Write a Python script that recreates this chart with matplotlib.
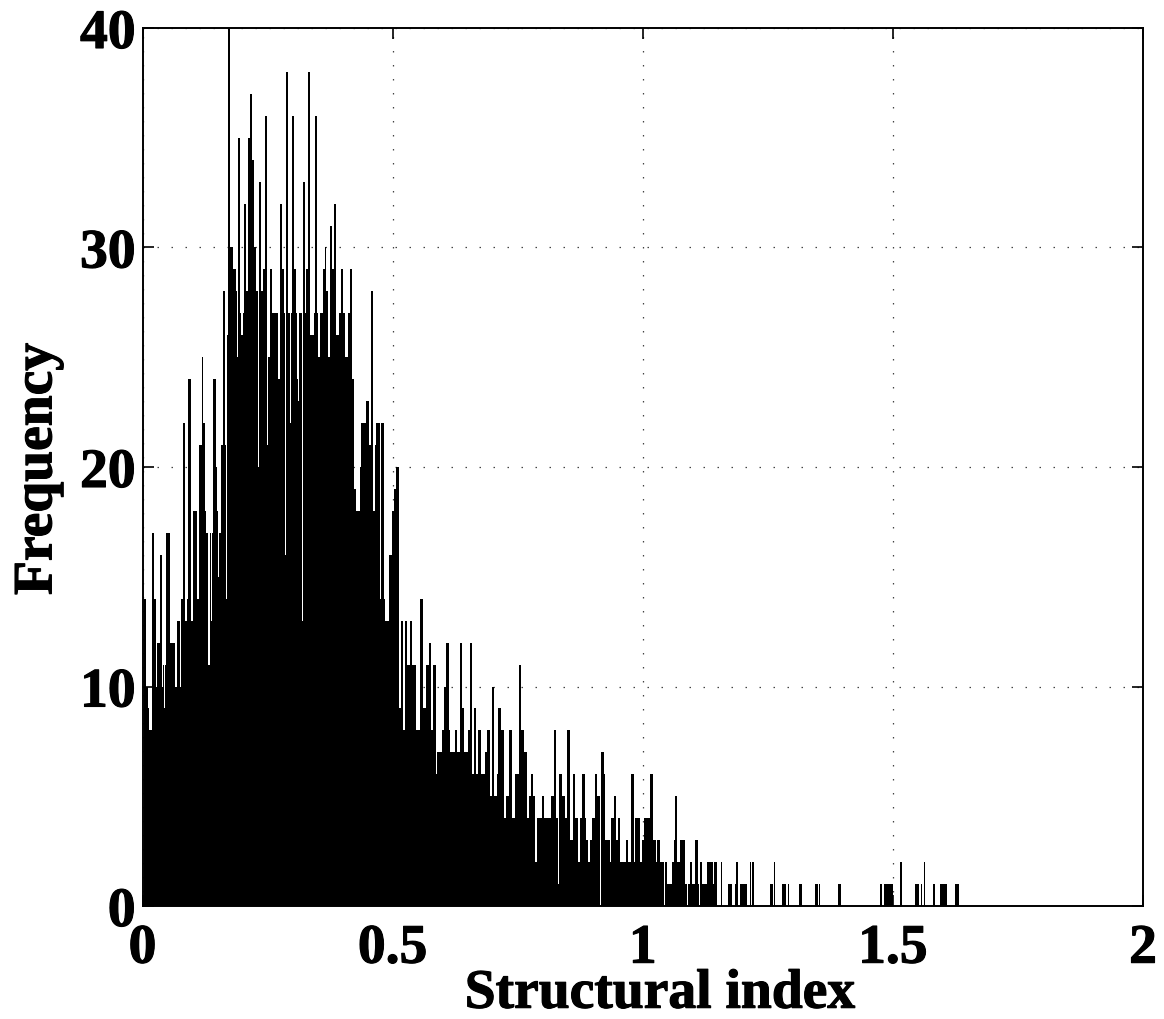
import numpy as np
import matplotlib
matplotlib.use("Agg")
import matplotlib.pyplot as plt
import matplotlib.patheffects as pe

plt.rcParams["font.family"] = ["Liberation Serif", "DejaVu Serif"]
plt.rcParams["font.weight"] = "bold"

# left edge of each run of the histogram and its count (a run ends where the next starts)
rise_index = [
    0.002, 0.007, 0.010, 0.012, 0.018, 0.023, 0.027, 0.029, 0.034, 0.039,
    0.041, 0.043, 0.044, 0.047, 0.055, 0.065, 0.066, 0.067, 0.069, 0.075,
    0.076, 0.081, 0.085, 0.088, 0.091, 0.097, 0.101, 0.108, 0.112, 0.113,
    0.118, 0.121, 0.124, 0.127, 0.130, 0.135, 0.137, 0.139, 0.141, 0.146,
    0.149, 0.151, 0.152, 0.156, 0.157, 0.160, 0.164, 0.167, 0.168,
]
rise_freq = [
    14, 10, 9, 8, 17, 14, 10, 12, 16, 10,
    11, 9, 11, 17, 12, 10, 7, 10, 13, 10,
    14, 22, 13, 14, 24, 13, 18, 14, 11, 21,
    25, 22, 18, 17, 11, 17, 13, 17, 24, 20,
    18, 15, 17, 16, 21, 28, 21, 14, 26,
]

peak_index = [
    0.170, 0.175, 0.181, 0.186, 0.189, 0.190, 0.194, 0.197, 0.201, 0.203,
    0.207, 0.211, 0.214, 0.218, 0.219, 0.223, 0.227, 0.231, 0.233, 0.237,
    0.240, 0.241, 0.245, 0.249, 0.251, 0.255, 0.259, 0.264, 0.265, 0.271,
    0.272, 0.273, 0.274, 0.278, 0.282, 0.285, 0.287, 0.291, 0.295, 0.296,
    0.299, 0.303, 0.307, 0.309, 0.311, 0.312, 0.313, 0.319, 0.321, 0.325,
    0.326, 0.330, 0.331, 0.335, 0.340, 0.341, 0.342, 0.345, 0.349, 0.351,
    0.355, 0.361, 0.364, 0.367, 0.370, 0.371, 0.375, 0.378, 0.379, 0.383,
    0.387, 0.390, 0.391, 0.393, 0.397, 0.401, 0.405, 0.410, 0.414, 0.415,
    0.419, 0.423, 0.427, 0.434, 0.437, 0.447, 0.453, 0.456, 0.460, 0.464,
    0.467, 0.475, 0.477, 0.483, 0.485,
]
peak_freq = [
    40, 30, 29, 28, 25, 35, 27, 26, 27, 32,
    28, 35, 37, 23, 34, 30, 28, 20, 33, 28,
    25, 29, 36, 21, 25, 29, 27, 19, 27, 24,
    20, 24, 32, 29, 27, 16, 38, 27, 22, 27,
    36, 29, 27, 24, 23, 24, 27, 13, 33, 27,
    29, 23, 38, 26, 22, 26, 27, 36, 27, 25,
    27, 29, 30, 28, 23, 25, 31, 23, 29, 32,
    26, 17, 26, 27, 29, 27, 25, 27, 24, 29,
    24, 19, 18, 20, 22, 23, 21, 28, 18, 21,
    22, 14, 22, 14, 13,
]

fall_index = [
    0.493, 0.498, 0.502, 0.507, 0.512, 0.516, 0.521, 0.524, 0.529, 0.534,
    0.539, 0.547, 0.555, 0.561, 0.567, 0.572, 0.577, 0.581, 0.586, 0.589,
    0.599, 0.602, 0.607, 0.613, 0.615, 0.624, 0.629, 0.635, 0.639, 0.643,
    0.651, 0.654, 0.659, 0.663, 0.667, 0.671, 0.677, 0.684, 0.689, 0.694,
    0.698, 0.703, 0.708, 0.711, 0.716, 0.722, 0.727, 0.733, 0.738, 0.744,
    0.752, 0.757, 0.763, 0.768, 0.772, 0.777, 0.781, 0.785, 0.789, 0.799,
    0.803, 0.817, 0.822, 0.827, 0.830, 0.833, 0.839, 0.845, 0.849, 0.855,
    0.860, 0.865, 0.870, 0.874, 0.879, 0.884, 0.887, 0.891, 0.895, 0.899,
    0.904, 0.909, 0.914, 0.915, 0.917, 0.922, 0.925, 0.934, 0.937, 0.943,
    0.947, 0.951, 0.955, 0.966, 0.971,
]
fall_freq = [
    16, 18, 19, 20, 9, 13, 8, 13, 11, 13,
    11, 8, 14, 9, 11, 12, 8, 11, 6, 7,
    8, 10, 12, 8, 7, 8, 7, 12, 9, 7,
    8, 12, 6, 9, 6, 8, 6, 7, 8, 5,
    10, 5, 6, 9, 8, 4, 5, 8, 4, 6,
    11, 8, 7, 4, 5, 6, 5, 2, 4, 5,
    4, 5, 8, 4, 1, 6, 5, 4, 8, 3,
    6, 4, 2, 4, 6, 4, 3, 2, 3, 4,
    6, 5, 4, 0, 7, 6, 3, 2, 4, 5,
    3, 4, 2, 3, 2,
]

low_index = [
    0.977, 0.983, 0.985, 0.995, 0.998, 1.002, 1.015, 1.020, 1.026, 1.029,
    1.034, 1.043, 1.044, 1.049, 1.059, 1.062, 1.065, 1.069, 1.075, 1.085,
    1.089, 1.090, 1.094, 1.099, 1.105, 1.110, 1.113, 1.114, 1.118, 1.126,
    1.127, 1.129, 1.136, 1.137, 1.140, 1.143, 1.144, 1.145, 1.148,
]
low_freq = [
    6, 2, 4, 2, 3, 4, 6, 3, 2, 3,
    2, 0, 2, 1, 2, 3, 5, 2, 3, 1,
    0, 1, 2, 1, 3, 1, 0, 2, 1, 0,
    1, 2, 0, 2, 1, 2, 0, 2, 0,
]

# sparse tail, single bins
tail_index = [
    1.156, 1.171, 1.175, 1.184, 1.187, 1.195, 1.198, 1.201, 1.205, 1.214, 1.219, 1.255, 1.258, 1.262,
    1.279, 1.283, 1.290, 1.312, 1.315, 1.345, 1.348, 1.352, 1.391, 1.394, 1.475, 1.483, 1.487, 1.490,
    1.493, 1.497, 1.515, 1.545, 1.549, 1.556, 1.562, 1.581, 1.595, 1.598, 1.601, 1.605, 1.625, 1.629,
]
tail_freq = [
    2, 1, 1, 1, 2, 1, 1, 1, 1, 2, 2, 1, 1, 2,
    1, 1, 1, 1, 1, 1, 1, 1, 1, 1, 1, 1, 1, 1,
    1, 1, 2, 1, 1, 1, 2, 1, 1, 1, 1, 1, 1, 1,
]

x_ticks = [0, 0.5, 1, 1.5, 2]
x_tick_labels = ["0", "0.5", "1", "1.5", "2"]
y_ticks = [0, 10, 20, 30, 40]


def main():
    fig = plt.figure(figsize=(11.64, 10.19), dpi=100)
    ax = fig.add_axes([142.5 / 1164, 1 - 906 / 1019, 1000.5 / 1164, 878 / 1019])

    x = np.array(rise_index + peak_index + fall_index + low_index)
    freq = np.array(rise_freq + peak_freq + fall_freq + low_freq)
    ax.bar(x[:-1], freq[:-1], width=np.diff(x), align="edge", color="black", linewidth=0)
    ax.bar(tail_index, tail_freq, width=0.003, align="edge", color="black", linewidth=0)

    ax.set_xlim(0, 2)
    ax.set_ylim(0, 40)
    ax.set_xticks(x_ticks, x_tick_labels)
    ax.set_yticks(y_ticks)
    ax.set_axisbelow(True)
    ax.grid(True, color="#444444", linewidth=0.9, linestyle=(0, (1.2, 10)))
    ax.tick_params(direction="in", length=8, width=1.2, top=True, right=True, labelsize=40, pad=5)
    ax.tick_params(axis="x", pad=12)
    for s in ax.spines.values():
        s.set_linewidth(1.4)

    ax.set_xlabel("Structural index", fontsize=40, fontweight="bold", labelpad=-5, x=0.517)
    ax.set_ylabel("Frequency", fontsize=40, fontweight="bold", labelpad=12, y=0.4975)

    heavier = [pe.withStroke(linewidth=0.8, foreground="black")]
    for t in ax.get_xticklabels() + ax.get_yticklabels() + [ax.xaxis.label, ax.yaxis.label]:
        t.set_path_effects(heavier)

    plt.savefig("out.png", dpi=100)
    plt.close()


if __name__ == "__main__":
    main()
